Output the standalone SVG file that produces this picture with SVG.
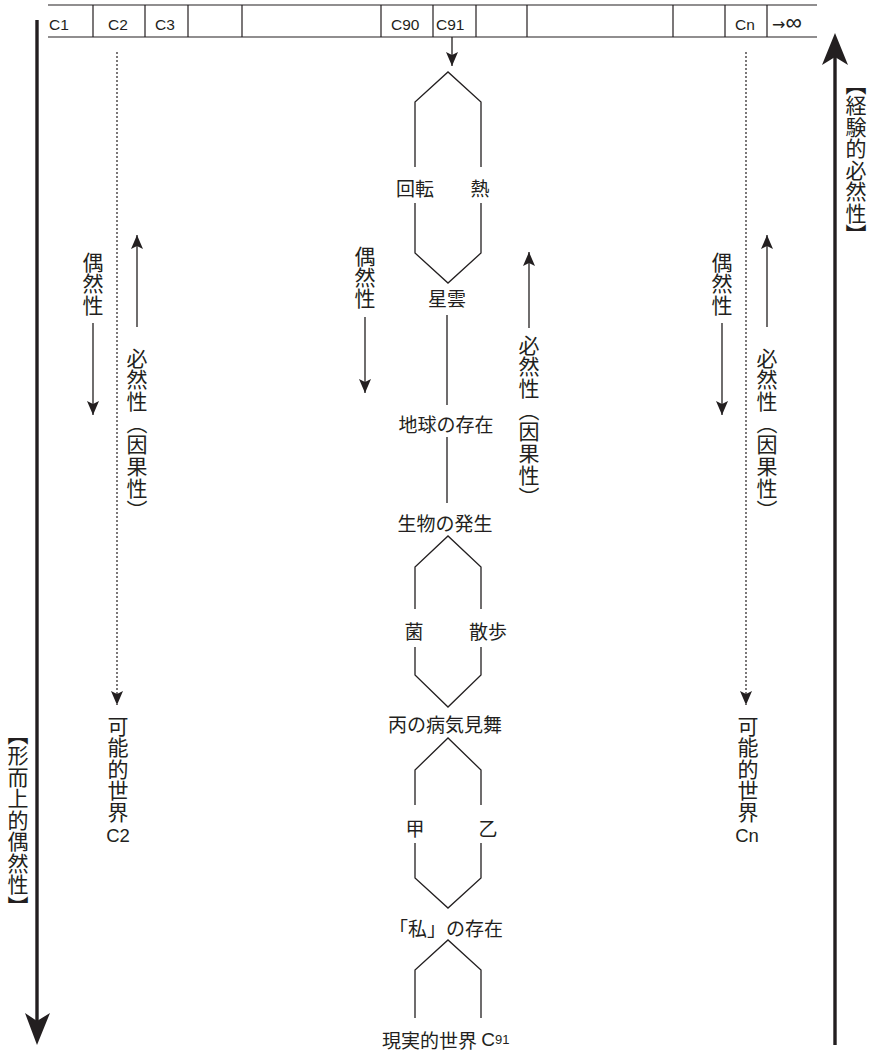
<svg xmlns="http://www.w3.org/2000/svg" width="873" height="1051" viewBox="0 0 873 1051">
<style>
.ln{stroke:#231f20;stroke-width:1.3;fill:none}
.tb{stroke:#231f20;stroke-width:1.2;fill:none}
.dash{stroke:#231f20;stroke-width:1.2;fill:none;stroke-dasharray:2 2}
.thick{stroke:#231f20;stroke-width:3.4;fill:none}
.head{fill:#231f20}
.lat{font-family:"Liberation Sans",Arial,sans-serif;fill:#231f20}
.cell{font-size:15.5px}
.h{font-family:"Noto Sans CJK JP","Noto Sans CJK SC",sans-serif;font-size:19px;fill:#231f20;text-anchor:middle;dominant-baseline:central}
.v{font-family:"Noto Sans CJK JP","Noto Sans CJK SC",sans-serif;font-size:21px;fill:#231f20;writing-mode:vertical-rl;text-anchor:start;dominant-baseline:central;letter-spacing:0.5px}
.w{letter-spacing:0.7px}
</style>
<defs>
<marker id="ah" viewBox="0 0 14 12" refX="14" refY="6" markerWidth="14" markerHeight="12" orient="auto" markerUnits="userSpaceOnUse">
<path d="M0,0 L14,6 L0,12 L3,6 Z" fill="#231f20"/>
</marker>
</defs>
<rect width="873" height="1051" fill="#ffffff"/>

<g id="table">
<line class="tb" x1="48" y1="5" x2="817" y2="5"/>
<line class="tb" x1="48" y1="37" x2="817" y2="37"/>
<path class="tb" d="M93,5V37M145,5V37M188,5V37M242,5V37M381,5V37M433,5V37M476,5V37M527,5V37M673,5V37M725,5V37M767,5V37"/>
<text class="lat cell" x="49" y="29.5">C1</text>
<text class="lat cell" x="108" y="29.5">C2</text>
<text class="lat cell" x="155" y="29.5">C3</text>
<text class="lat cell" x="391" y="29.5">C90</text>
<text class="lat cell" x="436" y="29.5">C91</text>
<text class="lat cell" x="735" y="29.5">Cn</text>
<text class="lat" x="772" y="29.5"><tspan font-family="DejaVu Sans" font-size="16">→</tspan><tspan font-size="23">∞</tspan></text>
</g>

<g id="connectors">
<line class="ln" x1="452" y1="37" x2="452" y2="66" marker-end="url(#ah)"/>
<path class="ln" d="M415,167V102L448,72L481,102V167M415,203V253L448,283L481,253V203"/>
<path class="ln" d="M447,315V405M447,437V503"/>
<path class="ln" d="M415,609V567L448,536L481,567V609M415,647V675L448,707L481,675V647"/>
<path class="ln" d="M415,805V770L448,738L481,770V805M415,843V878L448,908L481,878V843"/>
<path class="ln" d="M415,1018V970L448,940L481,970V1018"/>
<line class="ln" x1="93" y1="323" x2="93" y2="415" marker-end="url(#ah)"/>
<line class="ln" x1="137" y1="327" x2="137" y2="235" marker-end="url(#ah)"/>
<line class="ln" x1="365" y1="317" x2="365" y2="393" marker-end="url(#ah)"/>
<line class="ln" x1="529" y1="328" x2="529" y2="252" marker-end="url(#ah)"/>
<line class="ln" x1="722" y1="323" x2="722" y2="415" marker-end="url(#ah)"/>
<line class="ln" x1="767" y1="327" x2="767" y2="235" marker-end="url(#ah)"/>
<line class="dash" x1="117" y1="52" x2="117" y2="705" marker-end="url(#ah)"/>
<line class="dash" x1="746" y1="52" x2="746" y2="705" marker-end="url(#ah)"/>
<line class="thick" x1="37" y1="20" x2="37" y2="1022"/>
<path class="head" d="M25,1013L37,1045L50,1013L37,1021Z"/>
<line class="thick" x1="835" y1="1045" x2="835" y2="56"/>
<path class="head" d="M822,65L835,33L848,65L835,57Z"/>
</g>

<g id="axis-left-label">
<text class="v" x="18" y="723.5">【形而上的偶然性】</text>
</g>
<g id="axis-right-label">
<text class="v" x="856" y="73.5">【経験的必然性】</text>
</g>

<g id="col-c2">
<text class="v" x="93" y="251.5">偶然性</text>
<text class="v w" x="137" y="347.2">必然性（因果性）</text>
<text class="v" x="118" y="715.5">可能的世界</text>
<text class="lat" x="118" y="842" font-size="18.5" text-anchor="middle">C2</text>
</g>

<g id="col-c91">
<text class="v" x="365" y="245.5" style="letter-spacing:0">偶然性</text>
<text class="v w" x="529" y="334.2">必然性（因果性）</text>
</g>

<g id="col-cn">
<text class="v" x="722" y="251.5">偶然性</text>
<text class="v w" x="767" y="347.2">必然性（因果性）</text>
<text class="v" x="748" y="715.5">可能的世界</text>
<text class="lat" x="747" y="842" font-size="18.5" text-anchor="middle">Cn</text>
</g>

<g id="node-kaiten"><text class="h" x="415" y="187">回転</text></g>
<g id="node-netsu"><text class="h" x="480" y="187">熱</text></g>
<g id="node-seiun"><text class="h" x="447" y="297">星雲</text></g>
<g id="node-chikyu"><text class="h" x="446" y="423">地球の存在</text></g>
<g id="node-seibutsu"><text class="h" x="445" y="522">生物の発生</text></g>
<g id="node-kin"><text class="h" x="414" y="630">菌</text></g>
<g id="node-sanpo"><text class="h" x="488" y="630">散歩</text></g>
<g id="node-hei"><text class="h" x="445" y="723">丙の病気見舞</text></g>
<g id="node-kou"><text class="h" x="415" y="827">甲</text></g>
<g id="node-otsu"><text class="h" x="488" y="827">乙</text></g>
<g id="node-watashi"><text class="h" x="446" y="927">「私」の存在</text></g>
<g id="node-genjitsu"><text class="h" x="382" y="1039" style="text-anchor:start">現実的世界 <tspan class="lat" font-size="19">C</tspan><tspan class="lat" font-size="13">91</tspan></text></g>
</svg>
